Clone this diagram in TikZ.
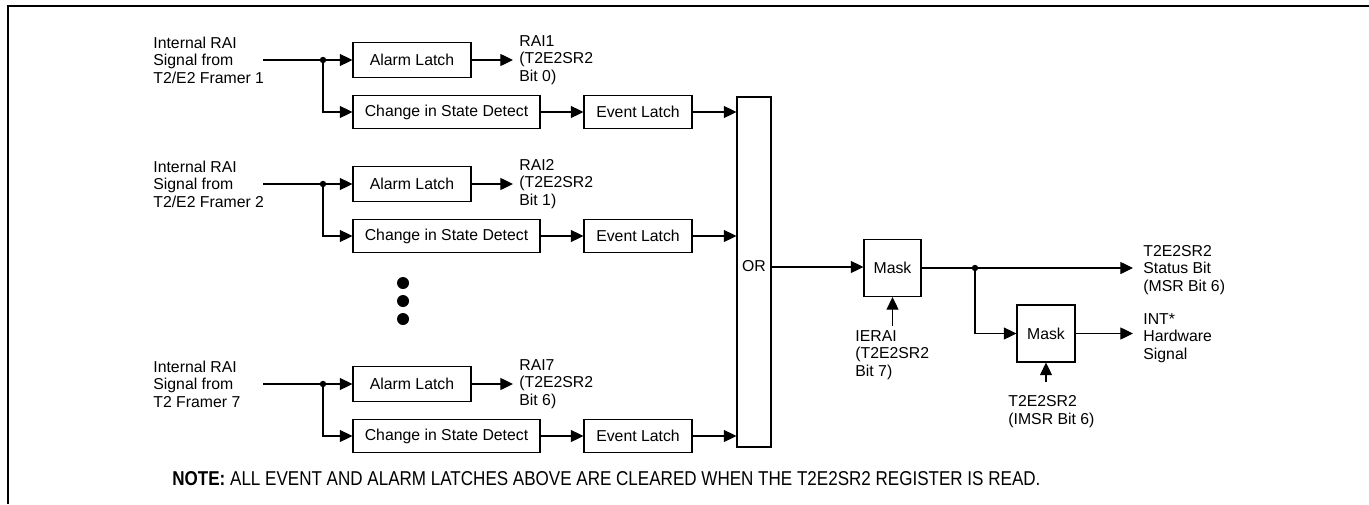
\documentclass[tikz,border=0pt]{standalone}
\usepackage{fontspec}
\setmainfont{Liberation Sans}
\usetikzlibrary{arrows.meta}
\begin{document}
\begin{tikzpicture}[x=0.5pt,y=-0.5pt,
  every node/.style={inner sep=0pt, font={\fontsize{7.9pt}{8.8pt}\selectfont}},
  box/.style={draw, line width=0.55pt},
  lbl/.style={align=left, anchor=west},
  arr/.style={-{Triangle[length=6.3pt,width=6pt]}, line width=0.55pt},
  ln/.style={line width=0.55pt},
  jdot/.style={circle, fill, minimum size=3.2pt},
  bigdot/.style={circle, fill, minimum size=6pt}
]
\useasboundingbox (0,0) rectangle (1369,504);
\fill[white] (0,0) rectangle (1369,504);
% frame
\draw[line width=1.3pt] (8,504) -- (8,6) -- (1369,6);

% OR box
\node[box, minimum width=17pt, minimum height=175pt] (or) at (754,272) {};
\node (ortxt) at (754,266) {OR};

% rows
\foreach \r/\y/\src/\rai/\bit in {1/60/T2\slash E2 Framer 1/RAI1/Bit 0, 2/184/T2\slash E2 Framer 2/RAI2/Bit 1, 3/384/T2 Framer 7/RAI7/Bit 6}{
  \node[lbl] (in\r) at (153,\y) {Internal RAI\\Signal from\\\src};
  \coordinate (s\r) at (263,\y);
  \coordinate (j\r) at (323,\y);
  \node[box, minimum width=59pt, minimum height=17.5pt] (al\r) at (412,\y) {Alarm Latch};
  \node[box, minimum width=93.5pt, minimum height=16.5pt] (cs\r) at (446.5,\y+52) {Change in State Detect};
  \node[box, minimum width=54pt, minimum height=16.5pt] (el\r) at (638,\y+52) {Event Latch};
  \node[lbl] (rai\r) at (519,\y) {\rai\\(T2E2SR2\\\bit)};
  \draw[arr] (s\r) -- (al\r.west);
  \node[jdot] at (j\r) {};
  \draw[arr] (j\r) |- (cs\r.west);
  \draw[arr] (al\r.east) -- ([xshift=-3pt]rai\r.west);
  \draw[arr] (cs\r.east) -- (el\r.west);
  \draw[arr] (el\r.east) -- (or.west |- el\r.east);
}

% ellipsis dots
\node[bigdot] (d1) at (403,283) {};
\node[bigdot] (d2) at (403,301) {};
\node[bigdot] (d3) at (403,319) {};

% masks
\node[box, minimum width=28.5pt, minimum height=28.5pt] (m1) at (892.5,268) {Mask};
\node[box, minimum width=29pt, minimum height=28.5pt] (m2) at (1046,333.5) {Mask};
\coordinate (orout) at (771,267);
\draw[arr] (orout) -- (m1.west |- orout);
\coordinate (jm) at (975,268);
\node[jdot] at (jm) {};
\node[lbl] (stat) at (1143,270) {T2E2SR2\\Status Bit\\(MSR Bit 6)};
\node[lbl] (intl) at (1143,338) {INT*\\Hardware\\Signal};
\coordinate (st) at (1133,268);
\coordinate (it) at (1133,333.5);
\draw[ln] (m1.east |- jm) -- (jm);
\draw[arr] (jm) -- (st);
\draw[arr] (jm) |- (m2.west);
\draw[arr] (m2.east) -- (it);

\node[lbl] (ierai) at (855,355) {IERAI\\(T2E2SR2\\Bit 7)};
\coordinate (m1in) at (892.5,326);
\draw[arr] (m1in) -- (m1.south);
\node[lbl] (imsr) at (1008,411.5) {T2E2SR2\\(IMSR Bit 6)};
\coordinate (m2in) at (1046,382);
\draw[arr] (m2in) -- (m2.south);

% note
\node[anchor=west] (note) at (172,479) {\resizebox{434pt}{7pt}{\textbf{NOTE:} ALL EVENT AND ALARM LATCHES ABOVE ARE CLEARED WHEN THE T2E2SR2 REGISTER IS READ.}};
\end{tikzpicture}
\end{document}
